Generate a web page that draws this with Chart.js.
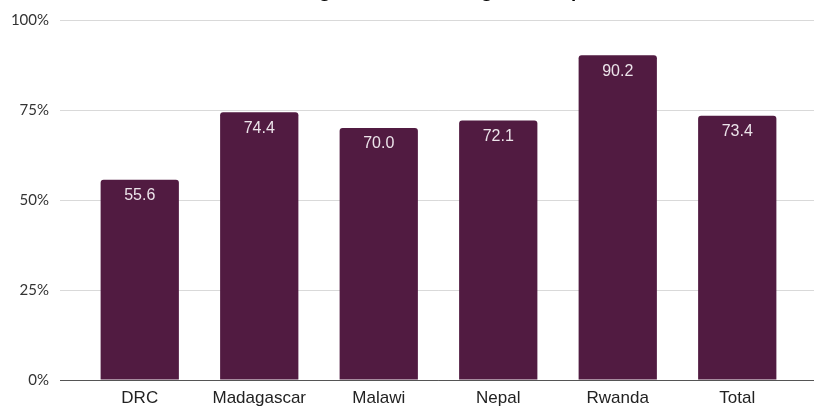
<!DOCTYPE html>
<html>
<head>
<meta charset="utf-8">
<script src="https://cdn.jsdelivr.net/npm/chart.js@4"></script>
<style>
  html, body { margin: 0; padding: 0; background: #fff; overflow: hidden; }
  #wrap { position: relative; width: 814px; height: 407px; overflow: hidden; }
  #title {
    position: absolute; left: 18px; top: -19px; width: 790px; text-align: center;
    font-family: "Open Sans", sans-serif; font-weight: bold; font-size: 17px;
    line-height: 20px; color: #000; white-space: nowrap;
  }
</style>
</head>
<body>
<div id="wrap">
  <canvas id="barChart" width="814" height="407"></canvas>
  <div id="title">Percentage of Men Attending the Group</div>
</div>
<script>
// Bar chart data
const categories = ['DRC', 'Madagascar', 'Malawi', 'Nepal', 'Rwanda', 'Total'];
const percentValues = [55.6, 74.4, 70.0, 72.1, 90.2, 73.4];
const yTicks = [0, 25, 50, 75, 100];

const barColor = '#511b41';

// draws the value inside the top of each bar
const valueLabels = {
    id: 'valueLabels',
    afterDatasetsDraw(chart) {
        const ctx = chart.ctx;
        const meta = chart.getDatasetMeta(0);
        ctx.save();
        ctx.font = '16px "Liberation Sans", Arial, sans-serif';
        ctx.fillStyle = '#ece4ea';
        ctx.textAlign = 'center';
        ctx.textBaseline = 'middle';
        meta.data.forEach((bar, i) => {
            ctx.fillText(percentValues[i].toFixed(1), bar.x, bar.y + 16);
        });
        ctx.restore();
    }
};

function gridColor(c) {
    return c.tick && c.tick.value === 0 ? '#555' : '#d9d9d9';
}

let barChart;

function initBarChart() {
    const ctx = document.getElementById('barChart').getContext('2d');
    barChart = new Chart(ctx, {
        type: 'bar',
        data: {
            labels: categories,
            datasets: [{
                data: percentValues,
                backgroundColor: barColor,
                borderRadius: 3,
                borderSkipped: 'bottom',
                barPercentage: 0.655,
                categoryPercentage: 1
            }]
        },
        options: {
            responsive: false,
            animation: false,
            layout: { padding: { top: 19, right: 0, bottom: 0, left: 0 } },
            plugins: {
                legend: { display: false },
                tooltip: { enabled: false }
            },
            scales: {
                x: {
                    grid: { display: false, drawTicks: false },
                    border: { display: false },
                    ticks: {
                        color: '#222',
                        padding: 8,
                        maxRotation: 0,
                        font: { family: '"Liberation Sans", Arial, sans-serif', size: 17 }
                    },
                    afterFit(scale) { scale.height = 27; }
                },
                y: {
                    min: 0,
                    max: 100,
                    afterBuildTicks(scale) { scale.ticks = yTicks.map(v => ({ value: v })); },
                    grid: { color: gridColor, tickLength: 20, lineWidth: 1 },
                    border: { display: false },
                    ticks: {
                        color: '#333',
                        padding: 11,
                        font: { family: 'Lato, sans-serif', size: 15 },
                        callback: v => v + '%'
                    },
                    afterFit(scale) { scale.width = 80; }
                },
                y2: {
                    position: 'right',
                    min: 0,
                    max: 100,
                    afterBuildTicks(scale) { scale.ticks = yTicks.map(v => ({ value: v })); },
                    grid: { color: gridColor, tickLength: 17, lineWidth: 1 },
                    border: { display: false },
                    ticks: { display: false },
                    afterFit(scale) { scale.width = 17; }
                }
            }
        },
        plugins: [valueLabels]
    });
}

document.addEventListener('DOMContentLoaded', initBarChart);
</script>
</body>
</html>
